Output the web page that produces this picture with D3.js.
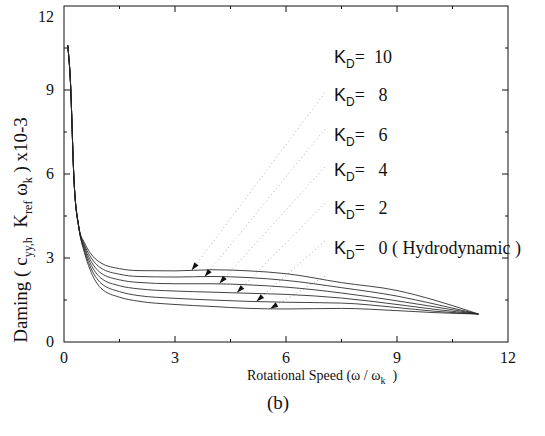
<!DOCTYPE html>
<html>
<head>
<meta charset="utf-8">
<script src="https://cdn.jsdelivr.net/npm/d3@7"></script>
<style>
  body { margin: 0; background: #fff; }
  svg { display: block; }
  text { font-family: "Liberation Serif", "DejaVu Serif", serif; fill: #111; }
  .k { font-family: "Liberation Sans", "DejaVu Sans", sans-serif; }
</style>
</head>
<body>
<svg id="chart" width="545" height="436"></svg>
<script>
// speed (w / w_k) at which the curves were read
const SPEED = [0.1, 0.17, 0.27, 0.4, 0.55, 0.7, 1.0, 1.5, 2, 3, 4, 5, 6, 7.5, 9, 10, 11.2];

// damping (x10-3), one array per K_D
const KD10 = [10.6, 9.4, 5.8, 4.1, 3.55, 3.20, 2.82, 2.62, 2.55, 2.54, 2.58, 2.54, 2.44, 2.12, 1.84, 1.50, 1.0];
const KD8  = [10.6, 9.4, 5.8, 4.1, 3.48, 3.08, 2.64, 2.42, 2.34, 2.32, 2.34, 2.30, 2.20, 1.94, 1.64, 1.36, 1.0];
const KD6  = [10.6, 9.4, 5.8, 4.1, 3.41, 2.96, 2.46, 2.22, 2.13, 2.08, 2.08, 2.04, 1.96, 1.75, 1.47, 1.26, 1.0];
const KD4  = [10.6, 9.4, 5.8, 4.1, 3.34, 2.84, 2.28, 2.01, 1.90, 1.82, 1.78, 1.74, 1.70, 1.57, 1.34, 1.17, 1.0];
const KD2  = [10.6, 9.4, 5.8, 4.1, 3.27, 2.72, 2.10, 1.80, 1.66, 1.56, 1.50, 1.45, 1.42, 1.39, 1.23, 1.10, 1.0];
const KD0  = [10.6, 9.4, 5.8, 4.1, 3.20, 2.60, 1.92, 1.60, 1.46, 1.34, 1.27, 1.20, 1.18, 1.20, 1.12, 1.05, 1.0];
const SERIES = [KD10, KD8, KD6, KD4, KD2, KD0];

// annotation labels (top to bottom) and where their leaders hit the curves
const LABEL_VALUES = ['10', '8', '6', '4', '2', '0 ( Hydrodynamic )'];
const LABEL_Y      = [10.18, 8.82, 7.39, 6.14, 4.79, 3.36];
const LABEL_X      = 7.3;
const LEADER_START = [[7.05, 8.9], [7.05, 7.6], [7.05, 6.25], [7.05, 4.95], [7.05, 3.6], [7.05, 2.35]];
const ARROW_AT     = [[3.45, 2.56], [3.8, 2.33], [4.2, 2.09], [4.67, 1.76], [5.2, 1.45], [5.57, 1.19]];

const X_TICKS = [0, 3, 6, 9, 12];
const Y_TICKS = [0, 3, 6, 9, 12];
const MINOR   = [1.5, 4.5, 7.5, 10.5];

const svg = d3.select('#chart');
const x = d3.scaleLinear().domain([0, 12]).range([64, 508]);
const y = d3.scaleLinear().domain([0, 12]).range([342, 6]);

const g = svg.append('g');

// frame
g.append('rect')
    .attr('x', x(0)).attr('y', y(12))
    .attr('width', x(12) - x(0)).attr('height', y(0) - y(12))
    .attr('fill', 'none').attr('stroke', '#111').attr('stroke-width', 1);

// inward ticks on all four sides
const tk = (len, vals) => vals.forEach(v => {
    g.append('line').attr('x1', x(v)).attr('x2', x(v)).attr('y1', y(0)).attr('y2', y(0) - len);
    g.append('line').attr('x1', x(v)).attr('x2', x(v)).attr('y1', y(12)).attr('y2', y(12) + len);
    g.append('line').attr('y1', y(v)).attr('y2', y(v)).attr('x1', x(0)).attr('x2', x(0) + len);
    g.append('line').attr('y1', y(v)).attr('y2', y(v)).attr('x1', x(12)).attr('x2', x(12) - len);
});
tk(6, X_TICKS.slice(1, -1));
tk(3, MINOR);
g.selectAll('line').attr('stroke', '#111').attr('stroke-width', 1);

// tick labels
g.selectAll('.xt').data(X_TICKS).join('text')
    .attr('x', d => x(d)).attr('y', 363)
    .attr('text-anchor', 'middle').attr('font-size', 16)
    .text(d => d);
g.selectAll('.yt').data(Y_TICKS).join('text')
    .attr('x', 54).attr('y', d => Math.max(y(d), 17) + 5)
    .attr('text-anchor', 'end').attr('font-size', 16)
    .text(d => d);

// leader lines (faint dotted)
const leaders = g.append('g');
LEADER_START.forEach((s, i) => {
    leaders.append('line')
        .attr('x1', x(s[0])).attr('y1', y(s[1]))
        .attr('x2', x(ARROW_AT[i][0])).attr('y2', y(ARROW_AT[i][1]))
        .attr('stroke', '#999').attr('stroke-width', 0.8)
        .attr('stroke-dasharray', '1,3');
});

// curves
const line = d3.line()
    .x((d, i) => x(SPEED[i]))
    .y(d => y(d))
    .curve(d3.curveMonotoneX);

g.append('g').selectAll('path').data(SERIES).join('path')
    .attr('d', line)
    .attr('fill', 'none')
    .attr('stroke', '#222')
    .attr('stroke-width', 0.85);

// arrowheads pointing along the leader into the curve
ARROW_AT.forEach((a, i) => {
    const s = LEADER_START[i];
    const px = x(a[0]), py = y(a[1]);
    const ang = Math.atan2(y(s[1]) - py, x(s[0]) - px);
    const L = 8, W = 2.6;
    const bx = px + L * Math.cos(ang), by = py + L * Math.sin(ang);
    const nx = -Math.sin(ang) * W, ny = Math.cos(ang) * W;
    g.append('path')
        .attr('d', `M${px},${py}L${bx + nx},${by + ny}L${bx - nx},${by - ny}Z`)
        .attr('fill', '#111');
});

// K_D labels
LABEL_VALUES.forEach((v, i) => {
    const t = g.append('text')
        .attr('x', x(LABEL_X)).attr('y', y(LABEL_Y[i]) + 6)
        .attr('font-size', 18)
        .style('white-space', 'pre');
    t.append('tspan').attr('class', 'k').text('K');
    t.append('tspan').attr('class', 'k').attr('font-size', 12).attr('dy', 5).text('D');
    t.append('tspan').attr('dy', -5).text(i === 0 ? '=  ' + v : '=   ' + v);
});

// axis titles
const xt = svg.append('text')
    .attr('x', 322).attr('y', 380)
    .attr('text-anchor', 'middle').attr('font-size', 14);
xt.append('tspan').text('Rotational Speed (ω / ω');
xt.append('tspan').attr('font-size', 10).attr('dy', 4).text('k');
xt.append('tspan').attr('dy', -4).text('  )').style('white-space', 'pre');

const yt = svg.append('text')
    .attr('transform', 'translate(27,230) rotate(-90)')
    .attr('text-anchor', 'middle').attr('font-size', 19)
    .style('white-space', 'pre');
yt.append('tspan').text('Daming ( c');
yt.append('tspan').attr('font-size', 12).attr('dy', 5).text('yy,h');
yt.append('tspan').attr('dy', -5).text('  K');
yt.append('tspan').attr('font-size', 12).attr('dy', 5).text('ref');
yt.append('tspan').attr('dy', -5).text(' ω');
yt.append('tspan').attr('font-size', 12).attr('dy', 5).text('k');
yt.append('tspan').attr('dy', -5).text(' ) x10-3');

svg.append('text')
    .attr('x', 278).attr('y', 409)
    .attr('text-anchor', 'middle').attr('font-size', 19)
    .text('(b)');
</script>
</body>
</html>
